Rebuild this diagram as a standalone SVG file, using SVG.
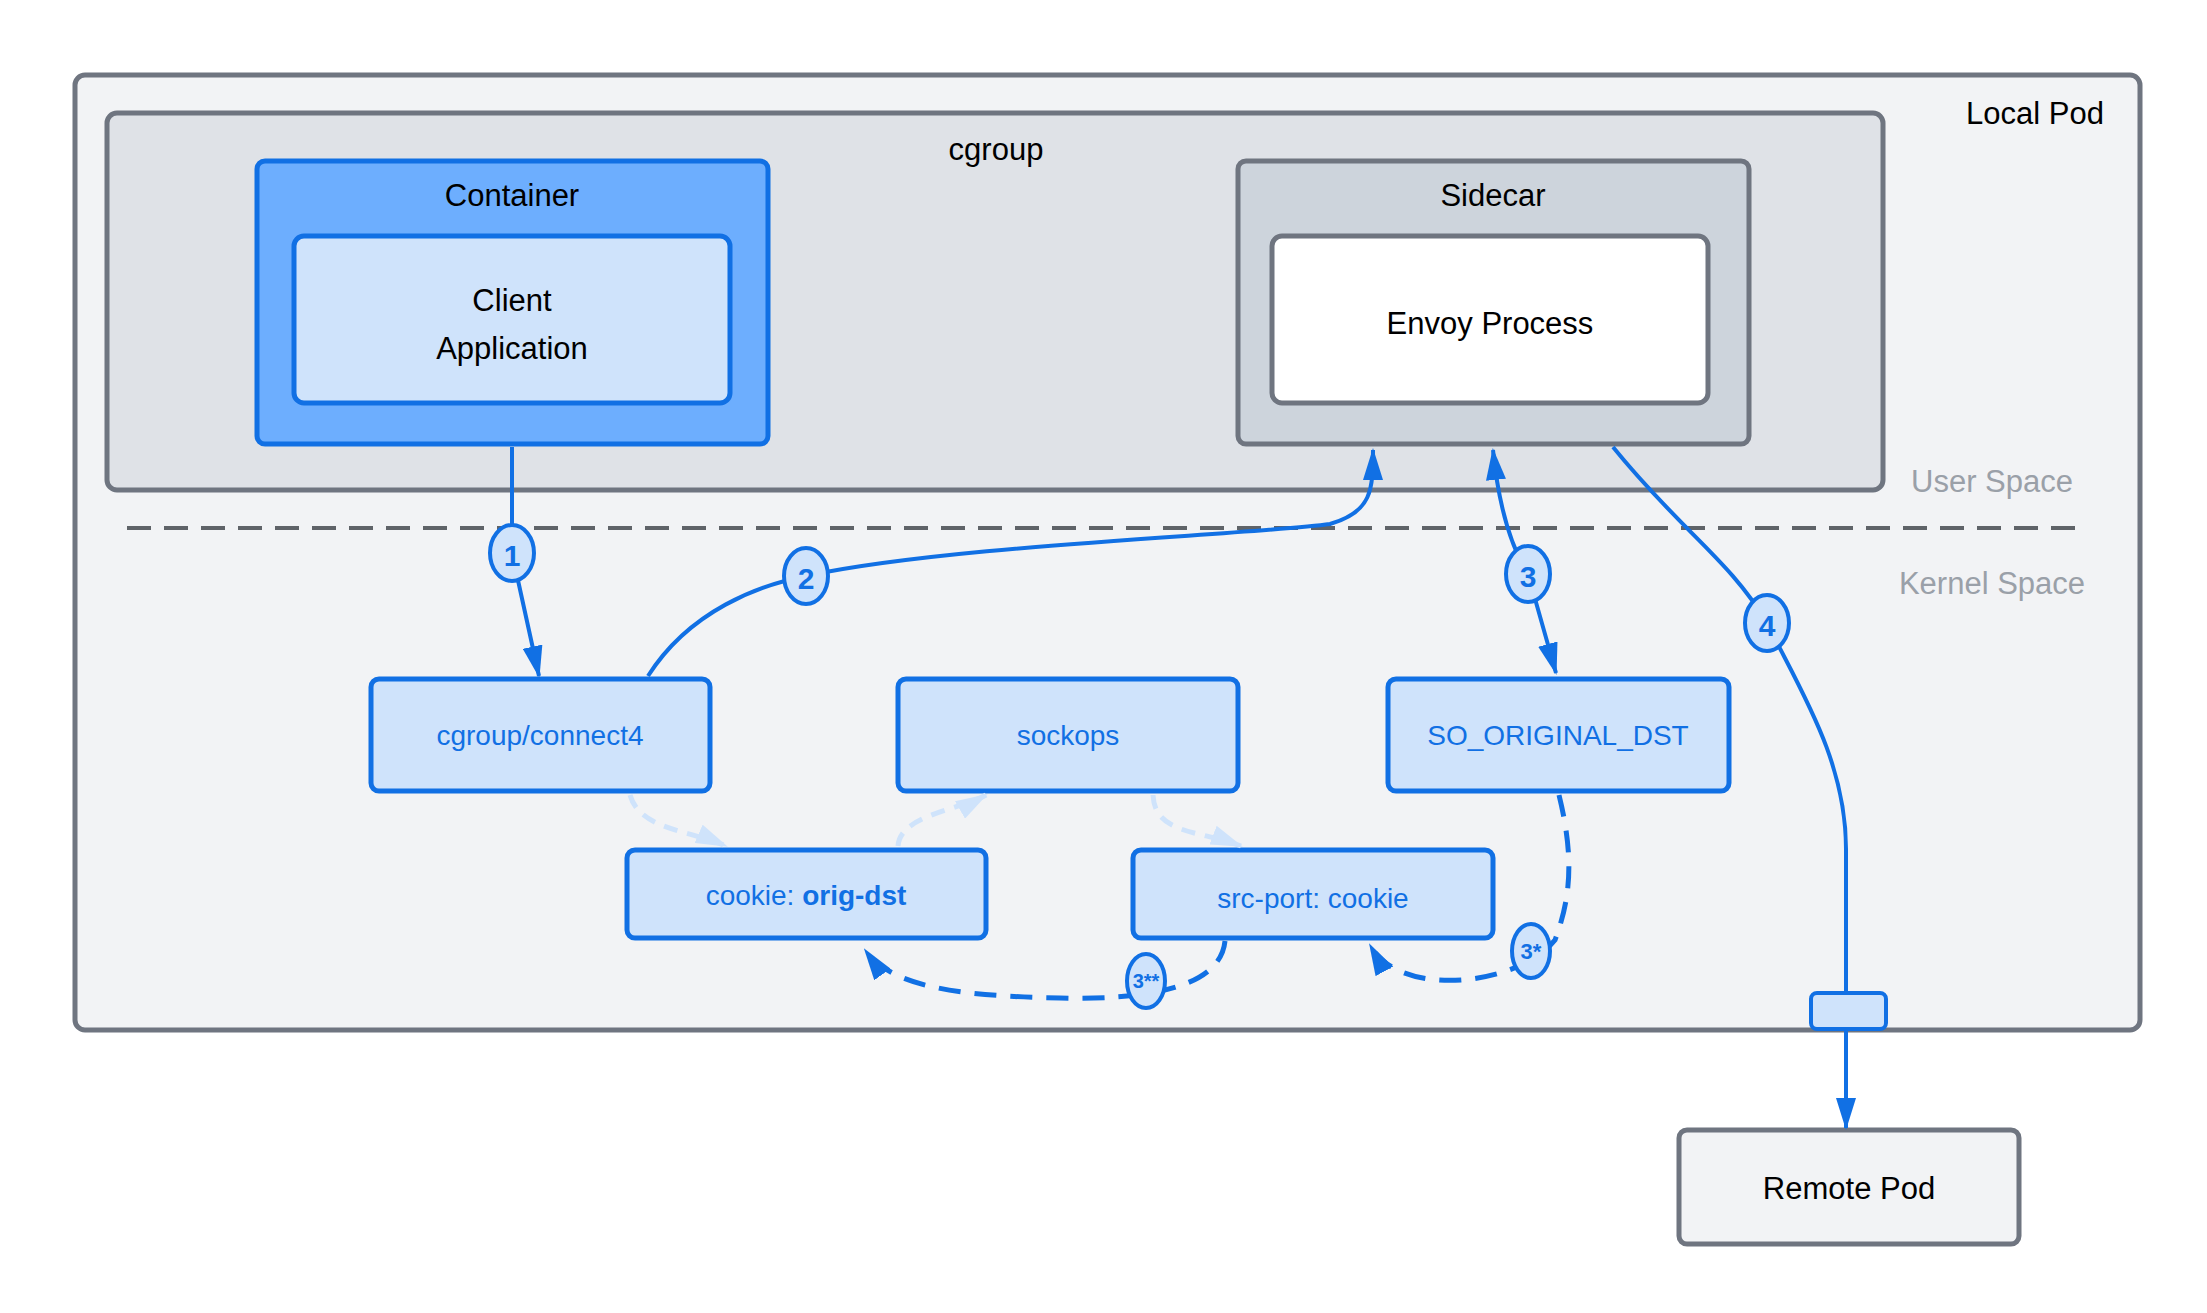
<svg xmlns="http://www.w3.org/2000/svg" width="2207" height="1313" viewBox="0 0 2207 1313">
<defs>
<style>
text{font-family:"Liberation Sans",Arial,sans-serif;text-anchor:middle;dominant-baseline:central}
.t{font-size:31px;fill:#000}
.k{font-size:28px;fill:#1170e4}
.g{font-size:31px;fill:#9aa0a8}
.b{fill:#cfe3fb;stroke:#1170e4;stroke-width:5}
.c{fill:none;stroke:#1170e4;stroke-width:4}
.d{fill:none;stroke:#1170e4;stroke-width:5;stroke-dasharray:22 14}
.l{fill:none;stroke:#cfe3fb;stroke-width:5;stroke-dasharray:14 10}
.bd{fill:#cfe3fb;stroke:#1170e4;stroke-width:4}
.bt{font-size:30px;fill:#1170e4;font-weight:bold}
</style>
<marker id="a" viewBox="0 0 32 20" refX="30" refY="10" markerWidth="32" markerHeight="20" orient="auto-start-reverse" markerUnits="userSpaceOnUse"><path d="M0,0L32,10L0,20z" fill="#1170e4"/></marker>
<marker id="al" viewBox="0 0 32 20" refX="30" refY="10" markerWidth="32" markerHeight="20" orient="auto" markerUnits="userSpaceOnUse"><path d="M0,0L32,10L0,20z" fill="#cfe3fb"/></marker>
</defs>
<rect width="2207" height="1313" fill="#fff"/>
<g id="localpod"><rect x="75" y="75" width="2065" height="955" rx="10" fill="#f2f3f5" stroke="#6f7580" stroke-width="5"/><text class="t" x="2035" y="113">Local Pod</text></g>
<g id="cgroup"><rect x="107" y="113" width="1776" height="377" rx="10" fill="#dfe2e7" stroke="#6f7580" stroke-width="5"/><text class="t" x="996" y="149">cgroup</text></g>
<g id="labels"><text class="g" x="1992" y="481">User Space</text><text class="g" x="1992" y="583">Kernel Space</text>
<line x1="127" y1="528" x2="2080" y2="528" stroke="#5f6368" stroke-width="4" stroke-dasharray="24 13"/></g>
<g id="container"><rect x="257" y="161" width="511" height="283" rx="8" fill="#6daefe" stroke="#1170e4" stroke-width="5"/><text class="t" x="512" y="195">Container</text></g>
<g id="client"><rect x="294" y="236" width="436" height="167" rx="10" fill="#cfe3fb" stroke="#1170e4" stroke-width="5"/><text class="t" x="512" y="300">Client</text><text class="t" x="512" y="348">Application</text></g>
<g id="sidecar"><rect x="1238" y="161" width="511" height="283" rx="8" fill="#cdd4dc" stroke="#6f7580" stroke-width="5"/><text class="t" x="1493" y="195">Sidecar</text></g>
<g id="envoy"><rect x="1272" y="236" width="436" height="167" rx="10" fill="#fff" stroke="#6f7580" stroke-width="5"/><text class="t" x="1490" y="323">Envoy Process</text></g>
<g id="connect4"><rect class="b" x="371" y="679" width="339" height="112" rx="8"/><text class="k" x="540" y="735">cgroup/connect4</text></g>
<g id="sockops"><rect class="b" x="898" y="679" width="340" height="112" rx="8"/><text class="k" x="1068" y="735">sockops</text></g>
<g id="sod"><rect class="b" x="1388" y="679" width="341" height="112" rx="8"/><text class="k" x="1558" y="735">SO_ORIGINAL_DST</text></g>
<g id="cookie"><rect class="b" x="627" y="850" width="359" height="88" rx="8"/><text class="k" x="806" y="895">cookie: <tspan font-weight="bold">orig-dst</tspan></text></g>
<g id="srcport"><rect class="b" x="1133" y="850" width="360" height="88" rx="8"/><text class="k" x="1313" y="898">src-port: cookie</text></g>
<g id="remote"><rect x="1679" y="1130" width="340" height="114" rx="8" fill="#f2f3f5" stroke="#6f7580" stroke-width="5"/><text class="t" x="1849" y="1188">Remote Pod</text></g>
<g id="port"><rect x="1811" y="993" width="75" height="36" rx="6" fill="#cfe3fb" stroke="#1170e4" stroke-width="4"/></g>
<g id="connectors">
<path class="c" d="M512,447 L512,553 L539,676" marker-end="url(#a)"/>
<path class="c" d="M648,676 C690,610 760,585 806,576 C950,545 1250,535 1330,524 C1372,512 1373,490 1373,450" marker-end="url(#a)"/>
<path class="c" d="M1493,450 C1498,500 1510,545 1528,574 L1556,673" marker-start="url(#a)" marker-end="url(#a)"/>
<path class="c" d="M1613,447 C1680,530 1730,560 1767,623 C1800,690 1846,760 1846,849 L1846,993"/>
<path class="c" d="M1846,1029 L1846,1128" marker-end="url(#a)"/>
<path class="l" d="M630,795 C640,830 690,830 726,846" marker-end="url(#al)"/>
<path class="l" d="M898,846 C900,815 960,810 986,795" marker-end="url(#al)"/>
<path class="l" d="M1153,795 C1155,835 1200,830 1241,846" marker-end="url(#al)"/>
<path class="d" d="M1559,795 C1575,860 1570,900 1555,940 C1520,985 1400,1000 1370,945" marker-end="url(#a)"/>
<path class="d" d="M1225,941 C1220,990 1140,1000 1060,998 C950,996 890,985 865,950" marker-end="url(#a)"/>
<ellipse class="bd" cx="512" cy="553" rx="22" ry="28"/><text class="bt" x="512" y="555">1</text>
<ellipse class="bd" cx="806" cy="576" rx="22" ry="28"/><text class="bt" x="806" y="578">2</text>
<ellipse class="bd" cx="1528" cy="574" rx="22" ry="28"/><text class="bt" x="1528" y="576">3</text>
<ellipse class="bd" cx="1767" cy="623" rx="22" ry="28"/><text class="bt" x="1767" y="625">4</text>
<ellipse class="bd" cx="1531" cy="951" rx="19" ry="27"/><text class="bt" style="font-size:22px" x="1531" y="951">3*</text>
<ellipse class="bd" cx="1146" cy="981" rx="19" ry="27"/><text class="bt" style="font-size:20px" x="1146" y="981">3**</text>
</g>
</svg>
